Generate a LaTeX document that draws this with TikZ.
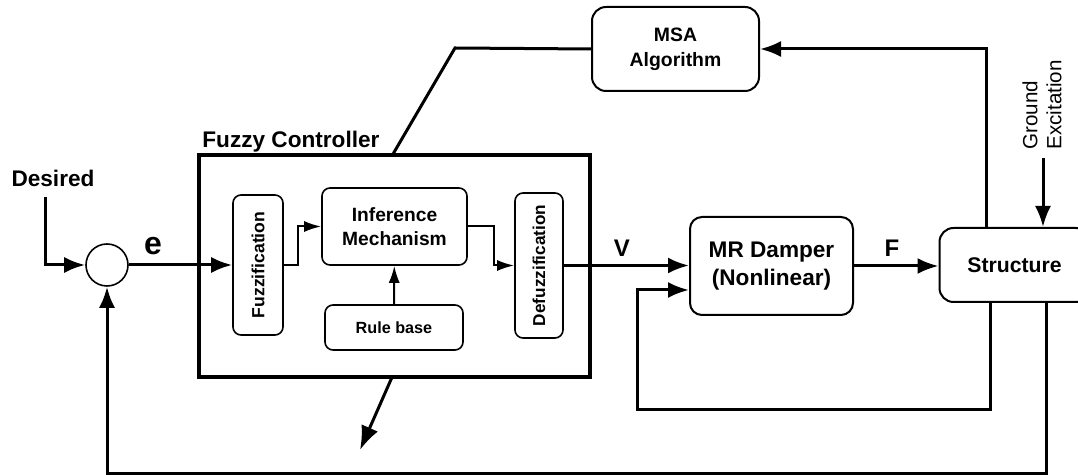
\documentclass[tikz,border=0pt]{standalone}
\usepackage{fontspec}
\setmainfont{Liberation Sans}
\usepackage{graphicx}
\usetikzlibrary{arrows.meta,calc,positioning}

\begin{document}
\begin{tikzpicture}[x=0.5pt,y=-0.5pt,>={Latex[length=10.5pt,width=8pt]},
box/.style={draw,rounded corners=4pt,line width=0.8pt,inner sep=0pt,align=center,font=\bfseries\fontsize{9.6}{12}\selectfont},
bigbox/.style={box,rounded corners=7pt,line width=1pt},
flow/.style={->,line width=1.5pt},
sflow/.style={-{Latex[length=8.5pt,width=5.5pt]},line width=1pt},
lab/.style={font=\bfseries\fontsize{11.3}{13}\selectfont,inner sep=0pt}]
\useasboundingbox (0,0) rectangle (1078,475);
\node[circle,draw,line width=0.8pt,minimum size=21pt,inner sep=0pt] (sum) at (107,265) {};
\node[draw,line width=1.6pt,minimum width=195.5pt,minimum height=111pt,inner sep=0pt] (fc) at (394.5,266) {};
\node[lab,anchor=west] (fclab) at (202,142) {Fuzzy Controller};
\node[box,minimum width=25pt,minimum height=70pt,font=\bfseries\fontsize{8.8}{10}\selectfont] (fuzz) at (258,265) {\rotatebox{90}{Fuzzification}};
\node[box,minimum width=72.5pt,minimum height=38.5pt] (infer) at (394.5,226.5) {Inference\\Mechanism};
\node[box,minimum width=69pt,minimum height=22.5pt,font=\bfseries\fontsize{8.1}{10}\selectfont] (rule) at (394,327.5) {Rule base};
\node[box,minimum width=24pt,minimum height=72.5pt,font=\bfseries\fontsize{8.6}{10}\selectfont] (defuzz) at (539,265.5) {\rotatebox{90}{Defuzzification}};
\node[bigbox,rounded corners=6pt,minimum width=81.5pt,minimum height=49pt,font=\bfseries\fontsize{11.3}{14}\selectfont] (mr) at (771.5,266) {MR Damper\\(Nonlinear)};
\node[bigbox,minimum width=75pt,minimum height=37pt,font=\bfseries\fontsize{10.6}{12}\selectfont] (struct) at (1014.5,265) {Structure};
\node[bigbox,minimum width=83.5pt,minimum height=42pt,font=\bfseries\fontsize{9.7}{12.5}\selectfont] (msa) at (675.5,49) {MSA\\Algorithm};
\node[lab] (des) at (53,178) {Desired};
\node[lab,font=\bfseries\fontsize{16}{18}\selectfont] (e) at (153,246) {e};
\node[lab,font=\bfseries\fontsize{12}{14}\selectfont] (v) at (622,248) {V};
\node[lab,font=\bfseries\fontsize{12}{14}\selectfont] (f) at (892,248) {F};
\node[rotate=90,anchor=west,align=left,inner sep=0pt,font=\fontsize{10.3}{12}\selectfont] (gl) at (1042,150) {Ground\\Excitation};
\coordinate (din) at (45,197);
\coordinate (gin) at (1043,158);
\coordinate (bend) at (455,48);
\coordinate (out) at (360,450);
\draw[flow] (din) |- (sum);
\draw[flow] (sum) -- (fuzz);
\draw[sflow] (fuzz.east) -- ++(14,0) |- (infer.west);
\draw[sflow] (infer.east) -- ++(26,0) |- (defuzz.west);
\draw[sflow] (rule) -- (infer);
\draw[flow] (defuzz.east) -- (defuzz.east -| mr.west);
\draw[flow] (mr.east) -- (mr.east -| struct.west);
\draw[flow] (gin) -- (gin |- struct.north);
\draw[flow] ([xshift=24pt]struct.north west) |- (msa);
\draw[line width=1.5pt] (msa.west) -- (bend) -- ([xshift=98pt]fc.north west);
\draw[flow,-{Latex[length=12pt,width=9pt]}] ([xshift=97pt]fc.south west) -- (out);
\draw[flow] ([xshift=26pt]struct.south west) -- ++(0,107) -- ++(-353,0) |- ([yshift=-12pt]mr.west);
\draw[flow] ([xshift=54pt]struct.south west) -- ++(0,171) -| (sum);
\end{tikzpicture}
\end{document}
